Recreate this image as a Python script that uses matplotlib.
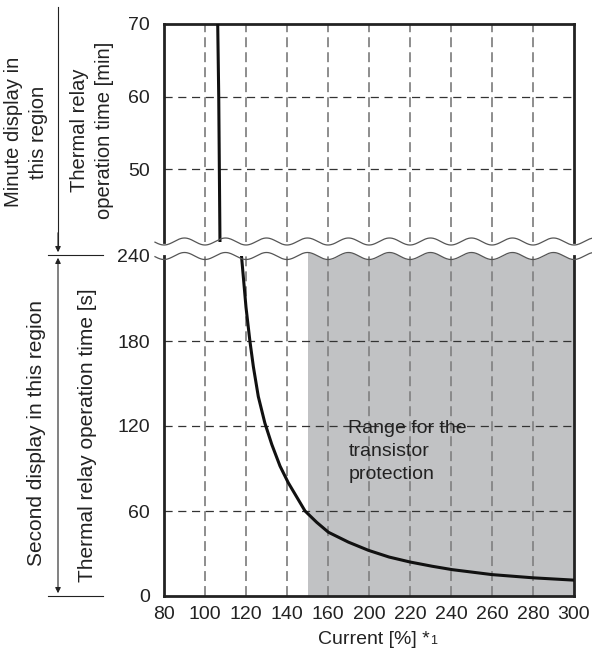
import numpy as np
import matplotlib
matplotlib.use("Agg")
from matplotlib import pyplot as plt

plt.rcParams['font.family'] = ['Liberation Sans', 'DejaVu Sans']
plt.rcParams['font.size'] = 14

# x axis labels (the chart skips 180)
current_ticks = [80, 100, 120, 140, 160, 200, 220, 240, 260, 280, 300]
tick_pos = np.arange(len(current_ticks))

# minute region curve (current %, time min)
cur_min = [106.2, 106.7, 107.3]
time_min = [70, 60, 40]

# second region curve (current %, time s)
cur_sec = [117.8, 120, 121.9, 123.6, 126, 129.2, 132.6, 136.6, 140.6, 148.8,
           154.5, 160.4, 180, 199.6, 209.8, 220, 230.8, 240.6, 260, 280.4, 300]
time_sec = [240, 203.8, 180, 161.8, 140.8, 122.1, 106.9, 91.7, 80, 60,
            52, 45, 38, 32.2, 27.5, 24, 21, 18.6, 15.1, 12.8, 11.2]

transistor_start = 150

min_ticks = [50, 60, 70]
sec_ticks = [0, 60, 120, 180, 240]


def fwd(x):
    return np.interp(x, current_ticks, tick_pos)


def inv(p):
    return np.interp(p, tick_pos, current_ticks)


W, H = 592, 651
fig = plt.figure(figsize=(W / 100, H / 100), dpi=100)

def fx(px):
    return px / W

def fy(py):
    return 1 - py / H

left, right = 164, 574
ax_top = fig.add_axes([fx(left), fy(241.5), (right - left) / W, (241.5 - 24) / H])
ax_bot = fig.add_axes([fx(left), fy(596), (right - left) / W, (596 - 256) / H])

for ax in (ax_top, ax_bot):
    ax.set_xscale('function', functions=(fwd, inv))
    ax.set_xlim(80, 300)
    ax.set_xticks(current_ticks)
    ax.tick_params(length=0, labelsize=14, pad=7, labelcolor='#222222')
    for x in current_ticks[1:-1]:
        ax.axvline(x, color='#858585', lw=1.3, dashes=(5.5, 2.8), zorder=1)
    for s in ax.spines.values():
        s.set_linewidth(2.0)
        s.set_color('#222222')

ax_top.set_ylim(40, 70)
ax_top.set_yticks(min_ticks)
ax_top.set_xticklabels([])
ax_top.spines['bottom'].set_visible(False)
ax_top.tick_params(axis='y', pad=10)
for y in [50, 60]:
    ax_top.axhline(y, color='#333333', lw=0.9, dashes=(6.5, 4.5), zorder=1)
ax_top.plot(cur_min, time_min, color='#111111', lw=2.2, zorder=4)

ax_bot.set_ylim(0, 240)
ax_bot.set_yticks(sec_ticks)
ax_bot.set_xticklabels([str(v) for v in current_ticks])
ax_bot.spines['top'].set_visible(False)
ax_bot.tick_params(axis='y', pad=10)
for y in [60, 120, 180]:
    ax_bot.axhline(y, color='#333333', lw=0.9, dashes=(6.5, 4.5), zorder=1)
ax_bot.plot(cur_sec, time_sec, color='#111111', lw=2.2, zorder=4,
            solid_joinstyle='round')

# break waves
amp_top = 3.5 / (241.5 - 24)
amp_bot = 3.5 / (596 - 256)
xw = np.linspace(-0.022, 1.045, 600)
ax_top.plot(xw, -amp_top * np.cos(2 * np.pi * 10 * xw), transform=ax_top.transAxes,
            color='#555555', lw=0.9, clip_on=False, zorder=5)
wave_bot = 1 - amp_bot * np.cos(2 * np.pi * 10 * xw)
ax_bot.plot(xw, wave_bot, transform=ax_bot.transAxes,
            color='#555555', lw=0.9, clip_on=False, zorder=5)

# shaded transistor range
x0 = fwd(transistor_start) / 10
xs = np.linspace(x0, 1, 300)
ax_bot.fill_between(xs, 0, 1 - amp_bot * np.cos(2 * np.pi * 10 * xs),
                    transform=ax_bot.transAxes, color='#c1c2c4', lw=0,
                    clip_on=False, zorder=0)
ax_bot.text(180, 124, 'Range for the\ntransistor\nprotection', fontsize=14,
            va='top', ha='left', linespacing=1.45, color='#222222', zorder=3)

# axis labels
xl = fig.text(fx(374), fy(640), 'Current [%] *', fontsize=14, ha='center', va='center',
              color='#222222')
ax_bot.annotate('1', xy=(1.0, 0.08), xycoords=xl, fontsize=9, va='bottom',
                ha='left', color='#222222')

fig.text(fx(92), fy(130), 'Thermal relay\noperation time [min]', rotation=90,
         ha='center', va='center', fontsize=14.5, linespacing=1.4, color='#222222')
fig.text(fx(26), fy(132), 'Minute display in\nthis region', rotation=90,
         ha='center', va='center', fontsize=14.5, linespacing=1.4, color='#222222')
fig.text(fx(88), fy(435), 'Thermal relay operation time [s]', rotation=90,
         ha='center', va='center', fontsize=15, color='#222222')
fig.text(fx(37), fy(433), 'Second display in this region', rotation=90,
         ha='center', va='center', fontsize=15, color='#222222')

# dimension lines
dim = dict(color='#222222', lw=0.8)
fig.add_artist(plt.Line2D([fx(48), fx(103)], [fy(255), fy(255)], **dim))
fig.add_artist(plt.Line2D([fx(48), fx(103)], [fy(596), fy(596)], **dim))
fig.add_artist(plt.Line2D([fx(58), fx(58)], [fy(7), fy(250)], **dim))
fig.add_artist(matplotlib.patches.FancyArrowPatch(
    (fx(58), fy(230)), (fx(58), fy(255)), transform=fig.transFigure,
    arrowstyle='-|>', mutation_scale=8, color='#222222', lw=0.8))
fig.add_artist(matplotlib.patches.FancyArrowPatch(
    (fx(58), fy(255)), (fx(58), fy(596)), transform=fig.transFigure,
    arrowstyle='<|-|>', mutation_scale=8, color='#222222', lw=0.8))

fig.savefig('out.png', dpi=100)
